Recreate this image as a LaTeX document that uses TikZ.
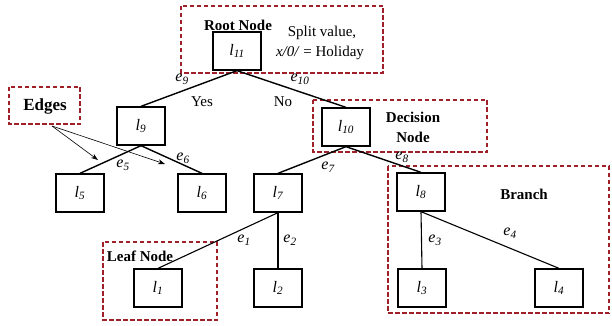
\documentclass[tikz,border=0pt]{standalone}
\usepackage{fontspec}
\setmainfont{Liberation Serif}
\usetikzlibrary{arrows.meta}
\definecolor{dred}{RGB}{158,32,40}
\newcommand{\lab}[2]{\textit{#1\textsubscript{#2}}}
\begin{document}
\begin{tikzpicture}[x=1pt,y=-1pt,
  tnode/.style={draw=black,line width=1.3pt,fill=white,minimum width=48pt,minimum height=38pt,inner sep=0pt,font=\fontsize{16}{18}\selectfont},
  dbox/.style={draw=dred,line width=1.8pt,dash pattern=on 4.5pt off 2.5pt},
  edge/.style={line width=1.4pt},
  thinedge/.style={line width=1.1pt},
  elab/.style={font=\fontsize{16}{18}\selectfont},
  btext/.style={font=\fontsize{15}{17}\bfseries\selectfont},
  ntext/.style={font=\fontsize{15}{17}\selectfont}]
\useasboundingbox (0,0) rectangle (612,326);
% dashed boxes
\draw[dbox] (181,6) rectangle (383,73);
\draw[dbox] (9,87) rectangle (80,124);
\draw[dbox] (313,100) rectangle (487,152);
\draw[dbox] (388,166) rectangle (609,313);
\draw[dbox] (103,242) rectangle (217,320);
% nodes
\node[tnode] (l11) at (237,51) {\lab{l}{11}};
\node[tnode] (l9) at (141,126) {\lab{l}{9}};
\node[tnode] (l10) at (346,127) {\lab{l}{10}};
\node[tnode] (l5) at (80,193) {\lab{l}{5}};
\node[tnode] (l6) at (202,193) {\lab{l}{6}};
\node[tnode] (l7) at (278,193) {\lab{l}{7}};
\node[tnode] (l8) at (421,192) {\lab{l}{8}};
\node[tnode] (l1) at (158,288) {\lab{l}{1}};
\node[tnode] (l2) at (278,288) {\lab{l}{2}};
\node[tnode] (l3) at (422,288) {\lab{l}{3}};
\node[tnode] (l4) at (559,288) {\lab{l}{4}};
% edges
\draw[edge] (l11.south) -- (l9.north);
\draw[edge] (l11.south) -- (l10.north);
\draw[edge] (l9.south) -- (l5.north);
\draw[edge] (l9.south) -- (l6.north);
\draw[edge] (l10.south) -- (l7.north);
\draw[edge] (l10.south) -- (l8.north);
\draw[thinedge] (l7.south) -- (l1.north);
\draw[thinedge] (l7.south) -- (l2.north);
\draw[thinedge] (l8.south) -- (l3.north);
\draw[thinedge] (l8.south) -- (l4.north);
% edge labels
\node[elab] (e9) at (182,79) {\lab{e}{9}};
\node[elab] (e10) at (300,79) {\lab{e}{10}};
\node[ntext] (yes) at (202,102) {Yes};
\node[ntext] (no) at (283,102) {No};
\node[elab] (e5) at (123,165) {\lab{e}{5}};
\node[elab] (e6) at (183,158) {\lab{e}{6}};
\node[elab] (e7) at (328,167) {\lab{e}{7}};
\node[elab] (e8) at (402,157) {\lab{e}{8}};
\node[elab] (e1) at (244,240) {\lab{e}{1}};
\node[elab] (e2) at (290,240) {\lab{e}{2}};
\node[elab] (e3) at (435,240) {\lab{e}{3}};
\node[elab] (e4) at (510,233) {\lab{e}{4}};
% annotations
\node[btext] (root) at (238,25) {Root Node};
\node[ntext] (split) at (322,33) {Split value,};
\node[ntext] (hol) at (320,53) {\textit{x/0/} = Holiday};
\node[btext,font=\fontsize{17}{19}\bfseries\selectfont] (edges) at (45,106) {Edges};
\node[btext,align=center] (dec) at (413,127) {Decision\\[3pt]Node};
\node[btext] (branch) at (524,194) {Branch};
\node[btext] (leaf) at (140,256) {Leaf Node};
\coordinate (ea) at (98,160);
\coordinate (eb) at (165,164);
\draw[line width=0.6pt,-{Stealth[length=7pt,width=5pt]}] (52,126) -- (ea);
\draw[line width=0.6pt,-{Stealth[length=7pt,width=5pt]}] (52,126) -- (eb);
\end{tikzpicture}
\end{document}
